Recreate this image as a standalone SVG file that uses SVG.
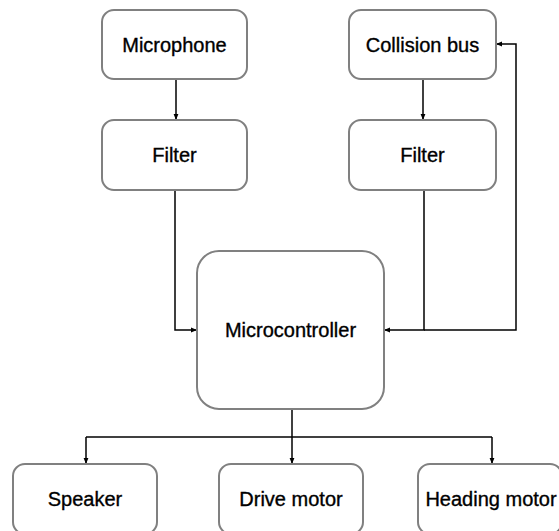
<svg xmlns="http://www.w3.org/2000/svg" width="559" height="531" viewBox="0 0 559 531">
  <style>
    .box { fill: #ffffff; stroke: #808080; stroke-width: 2; }
    .lbl { font-family: "Liberation Sans", Arial, sans-serif; font-size: 20px; fill: #000000; stroke: #000000; stroke-width: 0.35; text-anchor: middle; }
    .wire { fill: none; stroke: #000000; stroke-width: 1.5; }
  </style>
  <defs>
    <marker id="arrow" viewBox="0 0 10 10" refX="10" refY="5" markerWidth="6" markerHeight="6" orient="auto" markerUnits="userSpaceOnUse">
      <path d="M0,1 L10,5 L0,9 Z" fill="#000000"/>
    </marker>
  </defs>
  <rect width="559" height="531" fill="#ffffff"/>

  <g id="connectors">
    <path class="wire" d="M176,79 V120" marker-end="url(#arrow)"/>
    <path class="wire" d="M423,79 V120" marker-end="url(#arrow)"/>
    <path class="wire" d="M175,190 V330 H197" marker-end="url(#arrow)"/>
    <path class="wire" d="M424,190 V330 H384" marker-end="url(#arrow)"/>
    <path class="wire" d="M424,330 H516 V44 H496" marker-end="url(#arrow)"/>
    <path class="wire" d="M292,409 V437"/>
    <path class="wire" d="M86,437 H492"/>
    <path class="wire" d="M86,437 V464" marker-end="url(#arrow)"/>
    <path class="wire" d="M292,437 V464" marker-end="url(#arrow)"/>
    <path class="wire" d="M492,437 V464" marker-end="url(#arrow)"/>
  </g>

  <g id="microphone">
    <rect class="box" x="102" y="10" width="145" height="69" rx="12"/>
    <text class="lbl" x="174.5" y="52">Microphone</text>
  </g>
  <g id="filter-left">
    <rect class="box" x="102" y="120" width="145" height="70" rx="12"/>
    <text class="lbl" x="174.5" y="162">Filter</text>
  </g>
  <g id="collision-bus">
    <rect class="box" x="349" y="10" width="147" height="69" rx="12"/>
    <text class="lbl" x="422.5" y="52">Collision bus</text>
  </g>
  <g id="filter-right">
    <rect class="box" x="349" y="120" width="147" height="70" rx="12"/>
    <text class="lbl" x="422.5" y="162">Filter</text>
  </g>
  <g id="microcontroller">
    <rect class="box" x="197" y="251" width="187" height="158" rx="22"/>
    <text class="lbl" x="290.5" y="337">Microcontroller</text>
  </g>
  <g id="speaker">
    <rect class="box" x="13" y="464" width="144" height="70" rx="12"/>
    <text class="lbl" x="85" y="506">Speaker</text>
  </g>
  <g id="drive-motor">
    <rect class="box" x="219" y="464" width="144" height="70" rx="12"/>
    <text class="lbl" x="291" y="506">Drive motor</text>
  </g>
  <g id="heading-motor">
    <rect class="box" x="418" y="464" width="144" height="70" rx="12"/>
    <text class="lbl" x="491" y="506">Heading motor</text>
  </g>
</svg>
